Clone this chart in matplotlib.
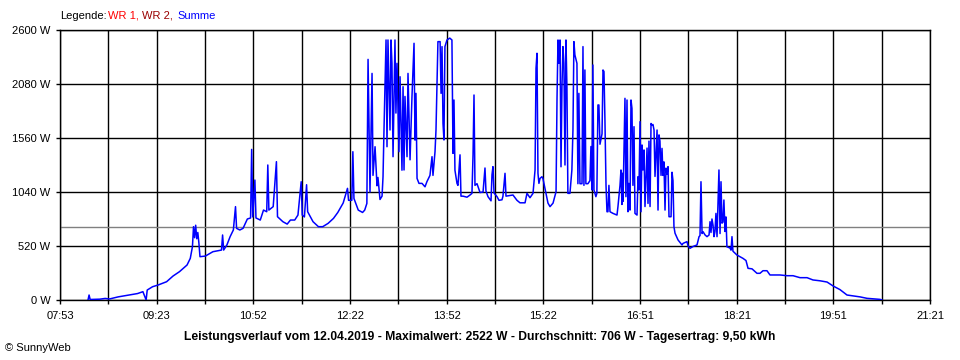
import numpy as np
import matplotlib
matplotlib.use('Agg')
import matplotlib.pyplot as plt

plt.rcParams['font.family'] = ['Liberation Sans', 'DejaVu Sans']

# Zeit in Minuten seit Mitternacht, Leistung in W (Summe)
morning_min = [499, 500, 501, 510, 515, 519, 527, 538, 545, 550, 553, 554, 559, 564, 572, 578,
               584, 591, 594, 596, 597, 598, 599, 600, 601, 602, 603, 608, 615, 623, 624, 625,
               628, 631, 634, 636, 637, 640, 643, 647, 650, 651, 652, 654, 655, 659, 662, 665,
               666, 667, 671, 674]
morning_w = [0, 48, 5, 8, 15, 10, 30, 50, 62, 80, 0, 96, 128, 144, 176, 231,
             273, 337, 401, 513, 706, 600, 720, 590, 650, 548, 417, 423, 465, 481, 626, 481,
             530, 610, 674, 899, 690, 674, 690, 780, 790, 1450, 800, 1155, 790, 770, 866, 850,
             1300, 866, 899, 1332]

late_morning_min = [675, 680, 684, 687, 691, 694, 697, 698, 700, 702, 703, 708, 713, 717, 722,
                    727, 731, 736, 740, 741, 744, 745, 746, 750, 754, 756, 758]
late_morning_w = [802, 754, 731, 770, 770, 818, 1139, 818, 800, 1110, 850, 754, 706, 706, 738,
                  786, 843, 934, 1075, 960, 960, 1428, 978, 866, 843, 866, 930]

noon_min = [759.1, 760.0, 760.9, 762.8, 763.7, 765.6, 767.4, 768.3, 770.2, 772.1, 773.0, 773.9,
            775.8, 776.7, 777.6, 779.5, 780.4, 781.3, 782.3, 784.1, 785.0, 786.0, 787.8, 788.8,
            790.6, 791.6, 792.5, 793.4, 795.3, 796.2, 798.1, 799.9, 801.8, 802.7, 803.6, 804.6,
            806.4, 809.2, 812.0, 813.8, 816.6, 818.5, 819.4, 821.3, 822.2, 824.0, 826.0, 826.9,
            827.8, 828.7, 829.6, 830.5, 832.4, 835.0, 837.0, 838.0, 838.9, 839.8, 841.7, 842.6,
            844.5, 845.4, 847.3, 851.0, 853.8]
noon_w = [2317, 1655, 1040, 2182, 1200, 1476, 1100, 1180, 968, 1000, 1187, 1637,
          2504, 1476, 2504, 1637, 2504, 2279, 1380, 2504, 1800, 2279, 1428, 2150,
          1250, 2054, 1252, 1960, 1380, 2182, 1350, 1960, 2472, 1540, 1990, 1171,
          1123, 1123, 1090, 1140, 1200, 1380, 1200, 1430, 1637, 2488, 2488, 1990,
          2440, 1700, 1541, 2440, 2504, 2522, 2504, 1412, 1926, 1250, 1123, 1104,
          1398, 1000, 1000, 990, 1011]

afternoon_min = [855.6, 856.6, 857.5, 858.4, 860.3, 863.1, 865.9, 867.7, 868.6, 870.5, 873.3, 874.2,
                 875.1, 876.1, 878.9, 880.7, 883.5, 884.4, 886.3, 887.2, 893.7, 897.4, 900.2, 904.9,
                 906.7, 909.5, 912.3, 914.2, 915.1, 916.0, 916.9, 917.8, 918.8, 920.6, 921.5, 923.4,
                 925.3, 926.2, 928.1, 930.9, 933.7, 934.6, 935.5, 936.4, 937.4, 938.3, 939.2, 940.1,
                 941.0, 942.0, 942.9, 943.8, 944.7, 946.6, 948.4, 949.4, 950.3, 951.2, 953.1, 954.0,
                 954.9, 955.9, 957.8, 958.7, 959.6, 960.5, 961.4, 963.3, 965.2, 966.1, 967.0, 967.9,
                 968.9, 970.7, 971.6, 972.6, 973.5, 974.5, 976.4, 977.3, 978.2, 979.1, 980.1, 981.0,
                 981.9, 982.8, 983.8, 986.6, 990.3, 991.2, 993.1, 994.0, 994.9, 995.4, 995.9, 997.7,
                 998.6, 999.6, 1000.5, 1001.4, 1002.4, 1003.3, 1004.2, 1005.1, 1006.1, 1007.0, 1008.9,
                 1009.8, 1010.7, 1011.7, 1012.6, 1013.5, 1014.4, 1015.4, 1016.3, 1018.2, 1019.1,
                 1020.0, 1021.0, 1021.9, 1022.8, 1023.7, 1024.7, 1025.6, 1027.5, 1028.4, 1029.3,
                 1030.2]
afternoon_w = [1027, 1398, 1974, 1104, 1120, 1035, 1040, 1271, 1050, 995, 955, 1206,
               1284, 1030, 995, 960, 965, 1000, 1220, 1000, 1011, 960, 936, 936,
               1027, 985, 1027, 1252, 2231, 2376, 1220, 1123, 1171, 1187, 1171, 1075,
               980, 933, 899, 933, 1043, 1942, 2504, 2279, 2504, 1283, 2054, 2440,
               2279, 1300, 2504, 2054, 1027, 1027, 1252, 1637, 2488, 2360, 2279, 1120,
               1990, 1120, 1120, 2440, 1104, 2215, 1120, 1120, 1150, 1478, 1060, 2263,
               1060, 995, 1027, 1878, 1878, 1500, 1600, 2215, 2200, 1733, 1104, 850,
               850, 1104, 850, 834, 818, 900, 1104, 1252, 920, 1220, 950, 1942,
               995, 1926, 850, 1123, 866, 1926, 1845, 1104, 1669, 834, 818,
               1187, 1060, 1717, 850, 1493, 1252, 1445, 900, 1463, 930,
               1530, 900, 1700, 1685, 1690, 1637, 1190, 1637, 866, 1590,
               1530]

evening_min = [1031.2, 1032.1, 1033.0, 1033.9, 1034.9, 1035.8, 1036.7, 1037.7, 1038.6, 1040.5,
               1041.4, 1042.3, 1043.2, 1044.2, 1047.0, 1050.7, 1051.6, 1055.3, 1056.3, 1058.1,
               1060.9, 1064.6, 1066.5, 1067.4, 1068.3, 1069.3, 1070.2, 1072.1, 1073.9, 1075.8,
               1076.7, 1077.6, 1078.5, 1079.5, 1080.4, 1081.3, 1082.2, 1083.2, 1084.1, 1085.0,
               1086.0, 1086.9, 1087.8, 1088.7, 1089.6, 1090.6, 1091.5, 1092.4, 1095.3, 1096.2,
               1097.1, 1098.0, 1101.7, 1104.5, 1107.3, 1110.1, 1112.0, 1115.7, 1120.3, 1123.1,
               1125.9, 1129.6, 1132.4, 1141.7, 1148.2, 1153.8, 1160.3, 1166.8, 1172.3, 1178.8,
               1185.4, 1191.0, 1197.4, 1203.9, 1209.5, 1216.0, 1222.5, 1234.6, 1236.4]
evening_w = [1200, 1460, 1200, 1330, 866, 1270, 1210, 1284, 802, 802,
             1230, 1150, 706, 643, 578, 530, 545, 562, 520, 498,
             515, 530, 610, 620, 1139, 640, 658, 626, 610, 626,
             754, 650, 780, 720, 610, 660, 834, 610, 930, 1252,
             640, 1139, 740, 750, 963, 660, 800, 513, 500, 480,
             610, 470, 433, 417, 401, 380, 305, 300, 257, 257,
             282, 282, 241, 241, 234, 234, 215, 215, 193, 185,
             173, 135, 100, 48, 40, 30, 16, 6, 0]

average_w = 706
x_labels = ['07:53', '09:23', '10:52', '12:22', '13:52', '15:22', '16:51', '18:21', '19:51', '21:21']
y_values = [0, 520, 1040, 1560, 2080, 2600]

times = np.concatenate([morning_min, late_morning_min, noon_min, afternoon_min, evening_min])
watts = np.concatenate([morning_w, late_morning_w, noon_w, afternoon_w, evening_w])

fig = plt.figure(figsize=(9.6, 3.6), dpi=100)
ax = fig.add_axes([60 / 960, 60 / 360, 870 / 960, 270 / 360])

ax.plot(times, watts, color='#0000FF', lw=1.1, zorder=3)
ax.axhline(average_w, color='#808080', lw=1.0, zorder=2)

ax.set_xlim(473, 1281)
ax.set_ylim(0, 2600)
xt = np.linspace(473, 1281, 19)
ax.set_xticks(xt)
labels = []
for i in range(19):
    labels.append(x_labels[i // 2] if i % 2 == 0 else '')
ax.set_xticklabels(labels)
ax.set_yticks(y_values)
ax.set_yticklabels([f'{v} W' for v in y_values])
ax.tick_params(direction='out', length=3, width=1, color='black', labelsize=8, pad=4)
ax.tick_params(axis='x', pad=5)
ax.grid(True, color='black', lw=1.0, zorder=1)
ax.set_axisbelow(True)
for s in ax.spines.values():
    s.set_color('black')
    s.set_linewidth(1.0)

# Legende oben links
fig.text(60 / 960, 1 - 16 / 360, 'Legende:', fontsize=8, color='black', va='center')
fig.text(108 / 960, 1 - 16 / 360, 'WR 1,', fontsize=8, color='#FF0000', va='center')
fig.text(142 / 960, 1 - 16 / 360, 'WR 2,', fontsize=8, color='#990000', va='center')
fig.text(177 / 960, 1 - 16 / 360, 'Summe', fontsize=8, color='#0000FF', va='center')

fig.text(480 / 960, 1 - 337 / 360,
         'Leistungsverlauf vom 12.04.2019 - Maximalwert: 2522 W - Durchschnitt: 706 W - Tagesertrag: 9,50 kWh',
         fontsize=8.7, fontweight='bold', ha='center', va='center')
fig.text(5 / 960, 1 - 348 / 360, '© SunnyWeb', fontsize=8, va='center')

fig.savefig('out.png', dpi=100)
